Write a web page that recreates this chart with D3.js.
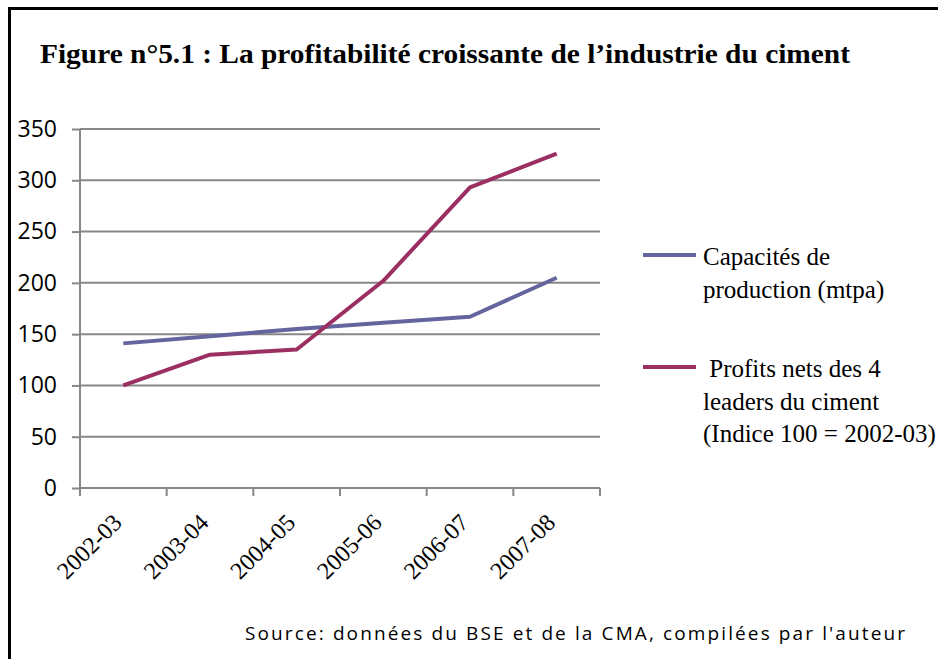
<!DOCTYPE html>
<html><head><meta charset="utf-8">
<script src="https://cdn.jsdelivr.net/npm/d3@7/dist/d3.min.js"></script>
<style>html,body{margin:0;padding:0;background:#fff;}</style>
</head><body>
<svg id="c" width="938" height="659"></svg>
<script>
const categories = ["2002-03","2003-04","2004-05","2005-06","2006-07","2007-08"];
const capacites = [141, 148, 155, 161, 167, 205];
const profits = [100, 130, 135, 202, 293, 326];
const yTicks = [0,50,100,150,200,250,300,350];
const seriesNames = [["Capacités de","production (mtpa)"],[" Profits nets des 4","leaders du ciment","(Indice 100 = 2002-03)"]];
const colors = ["#64649e","#9c2f62"];

const svg = d3.select("#c");
svg.append("rect").attr("width",938).attr("height",659).attr("fill","#fff");
// frame
svg.append("path").attr("d","M9.5,659 L9.5,8.5 L938,8.5").attr("fill","none").attr("stroke","#000").attr("stroke-width",3);

svg.append("text").attr("x",40).attr("y",63)
  .attr("textLength",810).attr("lengthAdjust","spacingAndGlyphs")
  .style("font-family","'Liberation Serif','Times New Roman',serif").style("font-weight","bold").style("font-size","28px")
  .text("Figure n°5.1 : La profitabilité croissante de l’industrie du ciment");

const x0 = 80, x1 = 600, yTop = 129, yBot = 488;
const x = d3.scaleBand().domain(categories).range([x0,x1]);
const y = d3.scaleLinear().domain([0,350]).range([yBot,yTop]);

// gridlines
svg.append("g").selectAll("line").data(yTicks.filter(d=>d>0)).join("line")
  .attr("x1",x0).attr("x2",x1).attr("y1",d=>y(d)).attr("y2",d=>y(d))
  .attr("stroke","#878787").attr("stroke-width",2);

// y axis
const ya = svg.append("g").attr("transform",`translate(${x0},0)`)
  .call(d3.axisLeft(y).tickValues(yTicks).tickSize(8).tickPadding(15));
ya.select(".domain").attr("stroke","#878787").attr("stroke-width",2).attr("d",`M0,${yTop}V${yBot}`);
ya.selectAll(".tick line").attr("stroke","#878787").attr("stroke-width",2);
ya.selectAll("text").style("font-family","'Open Sans',sans-serif").style("font-size","23px").attr("fill","#000");

// x axis
const xa = svg.append("g").attr("transform",`translate(0,${yBot})`);
xa.append("line").attr("x1",x0).attr("x2",x1).attr("stroke","#878787").attr("stroke-width",2);
const tickPos = categories.map(c=>x(c)).concat([x1]);
xa.selectAll("line.t").data(tickPos).join("line").attr("class","t")
  .attr("x1",d=>d).attr("x2",d=>d).attr("y1",0).attr("y2",8).attr("stroke","#878787").attr("stroke-width",2);
xa.selectAll("text").data(categories).join("text")
  .attr("transform",d=>`translate(${x(d)+x.bandwidth()/2},${36}) rotate(-45)`)
  .attr("text-anchor","end")
  .style("font-family","'Liberation Serif','Times New Roman',serif").style("font-size","24px")
  .text(d=>d);

// lines
const line = d3.line().x((d,i)=>x(categories[i])+x.bandwidth()/2).y(d=>y(d));
[capacites, profits].forEach((s,i)=>{
  svg.append("path").datum(s).attr("d",line).attr("fill","none")
    .attr("stroke",colors[i]).attr("stroke-width",4).attr("stroke-linejoin","round");
});

// legend
const lg = svg.append("g").style("font-family","'Liberation Serif','Times New Roman',serif").style("font-size","25px");
const legY = [255, 367];
seriesNames.forEach((lines,i)=>{
  lg.append("line").attr("x1",643).attr("x2",696).attr("y1",legY[i]).attr("y2",legY[i])
    .attr("stroke",colors[i]).attr("stroke-width",4);
  lines.forEach((t,j)=>{
    lg.append("text").attr("x",703).attr("y",legY[i]+10+j*32.5).attr("xml:space","preserve").style("white-space","pre").text(t);
  });
});

svg.append("text").attr("x",245).attr("y",640)
  .attr("textLength",660).attr("lengthAdjust","spacing")
  .style("font-family","'Open Sans',sans-serif").style("font-size","19px")
  .text("Source: données du BSE et de la CMA, compilées par l'auteur");
</script>
</body></html>
